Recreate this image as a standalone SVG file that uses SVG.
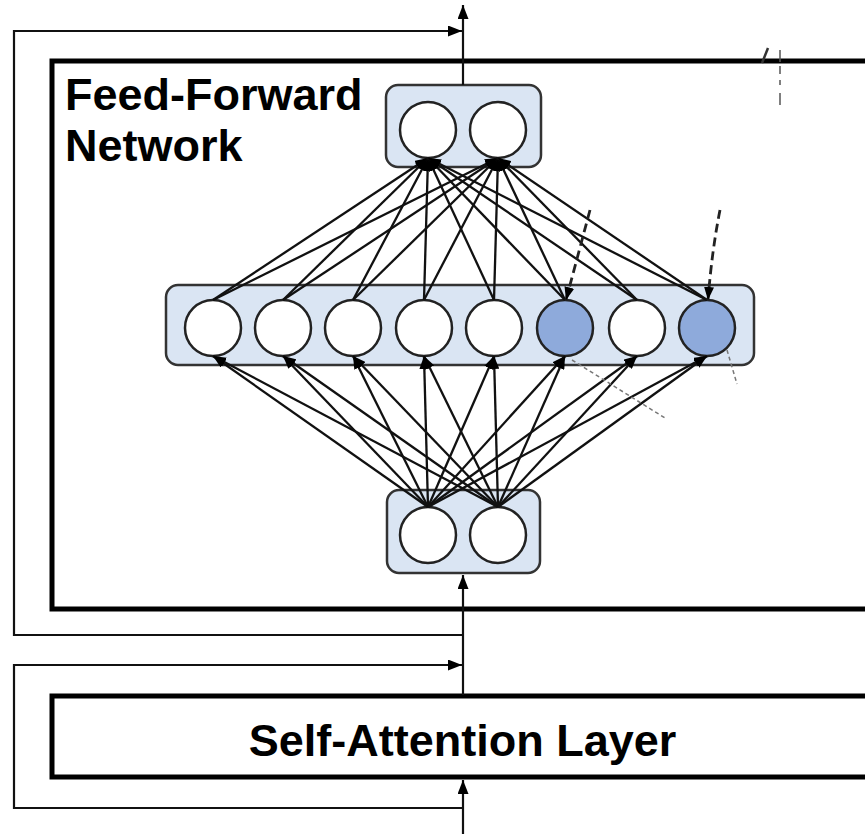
<svg xmlns="http://www.w3.org/2000/svg" width="865" height="834" viewBox="0 0 865 834">
<defs>
<style>
.big{fill:none;stroke:#000;stroke-width:5}
.flow{fill:none;stroke:#111;stroke-width:2.2}
.box{fill:#dae5f3;stroke:#333;stroke-width:2.5}
.cw{fill:#fff;stroke:#222;stroke-width:2.5}
.cb{fill:#8eaadb;stroke:#222;stroke-width:2.5}
.edge{stroke:#111;stroke-width:2.3;fill:none}
.dash{stroke:#222;stroke-width:2.8;fill:none;stroke-dasharray:9 5}
.thin{stroke:#777;stroke-width:1.5;fill:none;stroke-dasharray:4 3}
.lbl{font-family:"Liberation Sans",Arial,sans-serif;font-weight:bold;font-size:45px;fill:#000}
</style>
<marker id="ah" markerUnits="userSpaceOnUse" viewBox="0 0 14 11" markerWidth="14" markerHeight="11" refX="14" refY="5.5" orient="auto"><path d="M0,0 L14,5.5 L0,11 Z" fill="#000"/></marker>
<marker id="an" markerUnits="userSpaceOnUse" viewBox="0 0 13 10" markerWidth="13" markerHeight="10" refX="13" refY="5" orient="auto"><path d="M0,0 L13,5 L0,10 Z" fill="#000"/></marker>
</defs>
<rect width="865" height="834" fill="#fff"/>

<g id="ffn-block">
<rect class="big" x="52" y="61" width="840" height="548"/>
<text class="lbl" x="65" y="110">Feed-Forward</text>
<text class="lbl" x="65" y="161">Network</text>
</g>

<g id="self-attention">
<rect class="big" x="52" y="696" width="840" height="81"/>
<text class="lbl" x="462.5" y="756" text-anchor="middle">Self-Attention Layer</text>
</g>

<g id="output-layer">
<rect class="box" x="386" y="85" width="155" height="82" rx="12"/>
<circle class="cw" cx="428" cy="130" r="28"/>
<circle class="cw" cx="498" cy="130" r="28"/>
</g>

<g id="hidden-layer">
<rect class="box" x="166" y="285" width="588" height="80" rx="12"/>
<circle class="cw" cx="213" cy="328" r="28"/>
<circle class="cw" cx="283" cy="328" r="28"/>
<circle class="cw" cx="353" cy="328" r="28"/>
<circle class="cw" cx="424" cy="328" r="28"/>
<circle class="cw" cx="494" cy="328" r="28"/>
<circle class="cb" cx="565" cy="328" r="28"/>
<circle class="cw" cx="637" cy="328" r="28"/>
<circle class="cb" cx="707" cy="328" r="28"/>
</g>

<g id="input-layer">
<rect class="box" x="387" y="490" width="153" height="83" rx="12"/>
<circle class="cw" cx="428" cy="535" r="28"/>
<circle class="cw" cx="498" cy="535" r="28"/>
</g>

<g id="connectors">
<g marker-end="url(#an)" class="edge">
<line x1="213" y1="300" x2="428" y2="158"/>
<line x1="283" y1="300" x2="428" y2="158"/>
<line x1="353" y1="300" x2="428" y2="158"/>
<line x1="424" y1="300" x2="428" y2="158"/>
<line x1="494" y1="300" x2="428" y2="158"/>
<line x1="565" y1="300" x2="428" y2="158"/>
<line x1="637" y1="300" x2="428" y2="158"/>
<line x1="707" y1="300" x2="428" y2="158"/>
<line x1="213" y1="300" x2="498" y2="158"/>
<line x1="283" y1="300" x2="498" y2="158"/>
<line x1="353" y1="300" x2="498" y2="158"/>
<line x1="424" y1="300" x2="498" y2="158"/>
<line x1="494" y1="300" x2="498" y2="158"/>
<line x1="565" y1="300" x2="498" y2="158"/>
<line x1="637" y1="300" x2="498" y2="158"/>
<line x1="707" y1="300" x2="498" y2="158"/>
<line x1="428" y1="507" x2="213" y2="356"/>
<line x1="428" y1="507" x2="283" y2="356"/>
<line x1="428" y1="507" x2="353" y2="356"/>
<line x1="428" y1="507" x2="424" y2="356"/>
<line x1="428" y1="507" x2="494" y2="356"/>
<line x1="428" y1="507" x2="565" y2="356"/>
<line x1="428" y1="507" x2="637" y2="356"/>
<line x1="428" y1="507" x2="707" y2="356"/>
<line x1="498" y1="507" x2="213" y2="356"/>
<line x1="498" y1="507" x2="283" y2="356"/>
<line x1="498" y1="507" x2="353" y2="356"/>
<line x1="498" y1="507" x2="424" y2="356"/>
<line x1="498" y1="507" x2="494" y2="356"/>
<line x1="498" y1="507" x2="565" y2="356"/>
<line x1="498" y1="507" x2="637" y2="356"/>
<line x1="498" y1="507" x2="707" y2="356"/>
</g>
<path class="dash" d="M590,210 L566,300" marker-end="url(#an)"/>
<path class="dash" d="M720,210 Q712,250 708,300" marker-end="url(#an)"/>
<path class="thin" d="M572,360 L665,418"/>
<path class="thin" d="M727,350 L737,384"/>
<path d="M768,48 L762,63" stroke="#333" stroke-width="2.5" fill="none"/>
<path d="M780,50 L780,108" stroke="#555" stroke-width="1.5" fill="none" stroke-dasharray="12 4 8 6 5 8"/>
<line class="flow" x1="463" y1="834" x2="463" y2="780" marker-end="url(#ah)"/>
<line class="flow" x1="463" y1="695" x2="463" y2="575" marker-end="url(#ah)"/>
<line class="flow" x1="463" y1="85" x2="463" y2="5" marker-end="url(#ah)"/>
<polyline class="flow" points="463,635 14,635 14,31 462,31" marker-end="url(#ah)"/>
<polyline class="flow" points="463,808 14,808 14,665 462,665" marker-end="url(#ah)"/>
</g>
</svg>
